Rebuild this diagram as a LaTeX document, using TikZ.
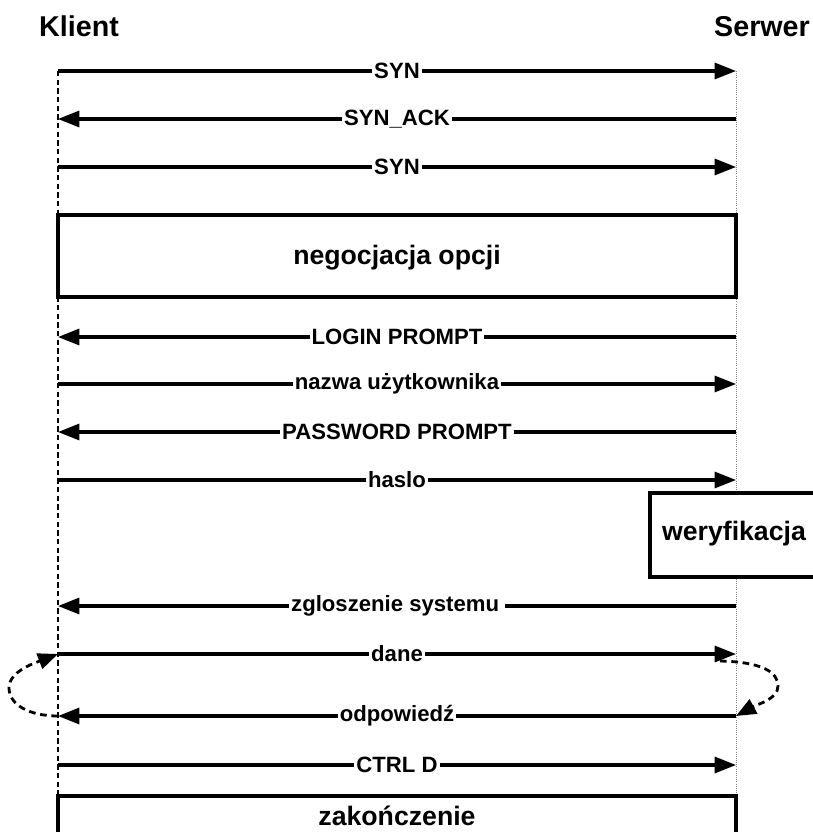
\documentclass[tikz,border=0pt]{standalone}
\usepackage{fontspec}
\setmainfont{Liberation Sans}
\usetikzlibrary{arrows.meta}

\begin{document}
\begin{tikzpicture}[x=0.75pt, y=-0.75pt,
  every node/.style = {font=\bfseries\fontsize{20}{24}\selectfont},
  msg/.style = {line width=2.3pt, -{Triangle[length=16pt, width=12pt]}},
  lbl/.style = {fill=white, inner sep=1.5pt, font=\bfseries\fontsize{16.6}{19}\selectfont},
  phase/.style = {draw, line width=2.3pt, fill=white},
  head/.style = {anchor=base, font=\bfseries\fontsize{21.5}{25}\selectfont},
  loopback/.style = {line width=2.1pt, dash pattern=on 5pt off 3.5pt,
    -{Triangle[length=15pt, width=12pt]}}]
  \useasboundingbox (0,0) rectangle (813,832);

  \node[head] (klient) at (79,36) {Klient};
  \node[head] (serwer) at (762,36) {Serwer};

  % lifelines
  \coordinate (ktop) at (58,71);
  \coordinate (kbot) at (58,796);
  \coordinate (stop) at (736,71);
  \coordinate (sbot) at (736,796);
  \draw[line width=0.8pt, dash pattern=on 4pt off 2.5pt] (ktop) -- (kbot);
  \draw[line width=0.6pt, gray, densely dotted] (stop) -- (sbot);

  \foreach \n/\y in {syn/71, synack/119, syn2/167, login/337, nazwa/384,
                     passwd/432, haslo/480, zgl/606, dane/654, odp/716, ctrl/765}
  {
    \coordinate (k-\n) at (58,\y);
    \coordinate (s-\n) at (736,\y);
  }

  \draw[msg] (k-syn) -- node[lbl] (l-syn) {SYN} (s-syn);
  \draw[msg] (s-synack) -- node[lbl] (l-synack) {SYN\_ACK} (k-synack);
  \draw[msg] (k-syn2) -- node[lbl] (l-syn2) {SYN} (s-syn2);

  \draw[phase] (58,215) rectangle (736,297);
  \node (negocjacja) at (397,258) {negocjacja opcji};

  \draw[msg] (s-login) -- node[lbl] (l-login) {LOGIN PROMPT} (k-login);
  \draw[msg] (k-nazwa) -- node[lbl] (l-nazwa) {nazwa użytkownika} (s-nazwa);
  \draw[msg] (s-passwd) -- node[lbl] (l-passwd) {PASSWORD PROMPT} (k-passwd);
  \draw[msg] (k-haslo) -- node[lbl] (l-haslo) {haslo} (s-haslo);

  \draw[phase] (650,493) rectangle (830,577);
  \node (weryfikacja) at (734,534) {weryfikacja};

  \draw[msg] (s-zgl) -- node[lbl] (l-zgl) {zgloszenie systemu\,} (k-zgl);
  \draw[msg] (k-dane) -- node[lbl] (l-dane) {dane} (s-dane);
  \draw[msg] (s-odp) -- node[lbl] (l-odp) {odpowiedź} (k-odp);
  \draw[msg] (k-ctrl) -- node[lbl] (l-ctrl) {CTRL D} (s-ctrl);

  % petla dane / odpowiedz
  \coordinate (s-wyj) at (720,661);
  \draw[loopback] (k-odp) .. controls (30,716) and (9,705) .. (9,688)
    .. controls (9,672) and (32,664) .. (k-dane);
  \draw[loopback] (s-wyj) .. controls (762,662) and (778,672) .. (778,686)
    .. controls (778,699) and (758,704) .. (s-odp);

  \draw[phase] (58,796) rectangle (736,845);
  \node (zakonczenie) at (397,816) {zakończenie};
\end{tikzpicture}
\end{document}
